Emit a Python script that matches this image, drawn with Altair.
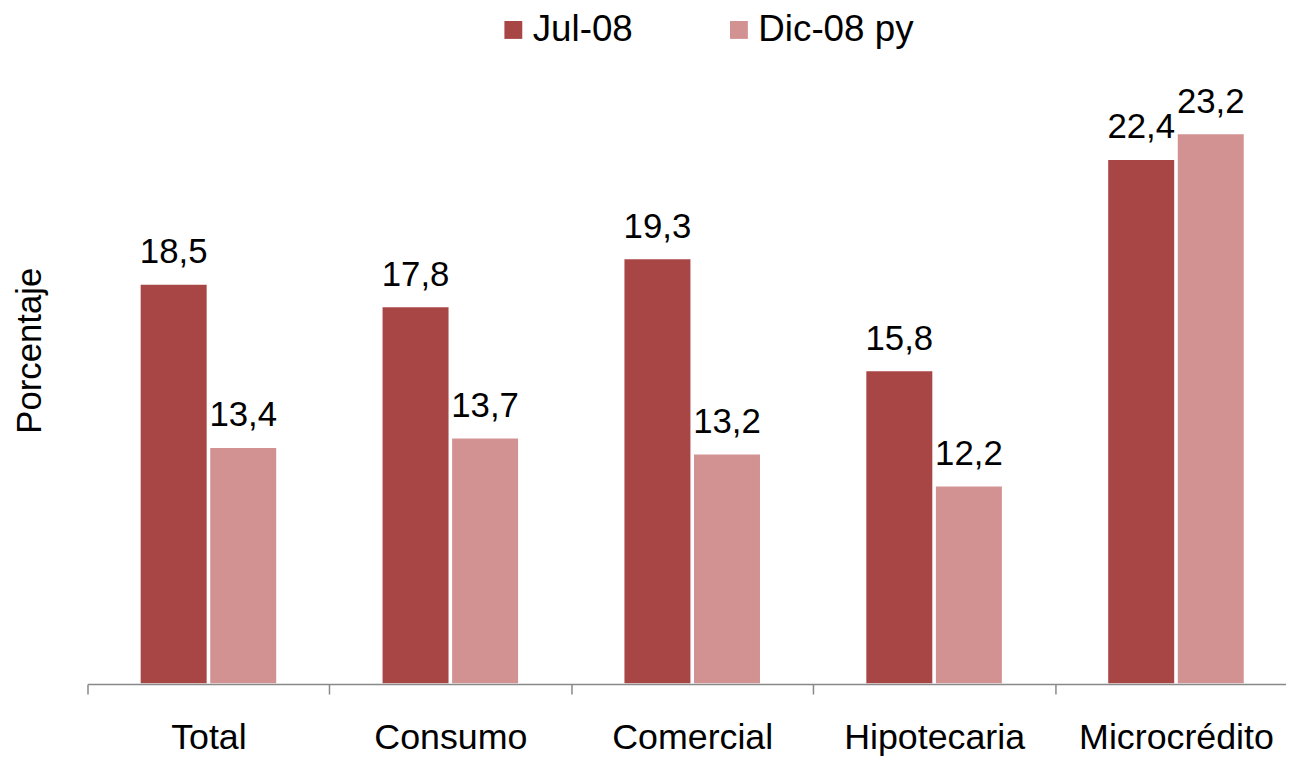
import altair as alt
import pandas as pd

categories = ["Total", "Consumo", "Comercial", "Hipotecaria", "Microcrédito"]
series = ["Jul-08", "Dic-08 py"]
jul08 = [18.5, 17.8, 19.3, 15.8, 22.4]
dic08 = [13.4, 13.7, 13.2, 12.2, 23.2]
colors = ["#A84646", "#D39292"]

rows = []
for c, a, b in zip(categories, jul08, dic08):
    for s, v in zip(series, [a, b]):
        rows.append({"cat": c, "serie": s, "valor": v,
                     "etiqueta": f"{v:.1f}".replace(".", ",")})
df = pd.DataFrame(rows)

FONT = "Liberation Sans"

x = alt.X("cat:N", sort=categories,
          scale=alt.Scale(paddingInner=0, paddingOuter=0, range=[0, 1217]),
          axis=alt.Axis(title=None, tickBand="extent", domainColor="#898989",
                        domainWidth=1.5, tickColor="#898989", tickWidth=1.5,
                        tickSize=10, labelFontSize=36, labelFont=FONT,
                        labelColor="black", labelPadding=27, labelAngle=0,
                        labelLimit=0, zindex=1))
xo = alt.XOffset("serie:N", sort=series,
                 scale=alt.Scale(paddingInner=0.03, paddingOuter=0.7536))
y = alt.Y("valor:Q",
          scale=alt.Scale(domain=[6, 25], nice=False, zero=False),
          axis=alt.Axis(title="Porcentaje", domain=False, ticks=False,
                        labels=False, grid=False, titleFontSize=35,
                        titleFont=FONT, titleFontWeight="normal",
                        titleColor="black", titleX=-47, titleY=276,
                        titleBaseline="alphabetic"))

bars = alt.Chart(df).mark_bar(stroke="white", strokeWidth=1.5).encode(
    x=x, xOffset=xo, y=y, y2=alt.datum(6),
    color=alt.Color("serie:N", sort=series,
                    scale=alt.Scale(domain=series, range=colors),
                    legend=alt.Legend(title=None, orient="none", legendX=410,
                                      legendY=-65, direction="horizontal",
                                      symbolType="square", symbolSize=324,
                                      symbolStrokeWidth=0, labelFontSize=37,
                                      labelFont=FONT, labelColor="black",
                                      labelOffset=1, columnPadding=88,
                                      padding=0)),
)

labels = alt.Chart(df).mark_text(dy=-21, baseline="alphabetic", fontSize=35,
                                 font=FONT, color="black").encode(
    x=x, xOffset=xo, y=y, text="etiqueta:N")

chart = alt.layer(bars, labels).properties(
    width=1206, height=612,
    autosize=alt.AutoSizeParams(type="none"),
    padding={"left": 80, "top": 66, "right": 0, "bottom": 72},
).configure(font=FONT).configure_view(strokeWidth=0, stroke="transparent")

chart.save("out.html", embed_options={"renderer": "svg", "actions": False})
